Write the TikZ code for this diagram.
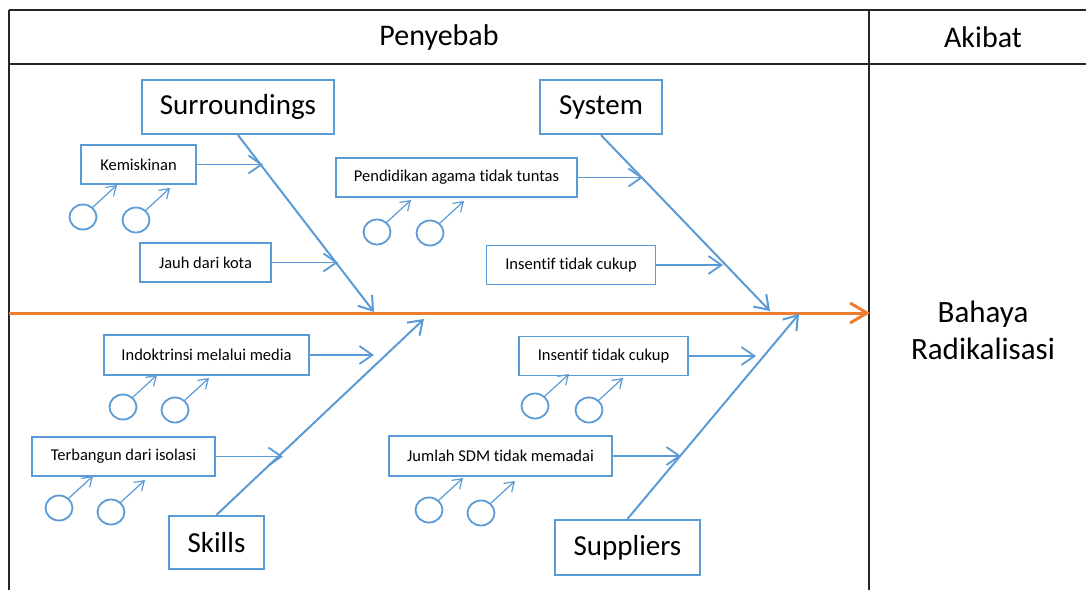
\documentclass[tikz,border=0pt]{standalone}
\usepackage{fontspec}
\setmainfont{Carlito}[Ligatures=NoCommon]
\usetikzlibrary{arrows.meta,shapes.geometric}
\definecolor{fbblue}{HTML}{5B9BD5}
\definecolor{fborange}{HTML}{ED7D31}
\begin{document}
\begin{tikzpicture}[x=1pt,y=-1pt,
  frame/.style={line width=2.4pt,draw=black!85},
  hdr/.style={font=\fontsize{30}{34}\selectfont,inner sep=0},
  cause/.style={draw=fbblue,line width=2.2pt,fill=white,inner sep=0,
    font=\fontsize{29}{34}\selectfont},
  sub/.style={draw=fbblue,line width=1.9pt,fill=white,inner sep=0,
    font=\fontsize{16.5}{19}\selectfont},
  bone/.style={draw=fbblue,line width=2pt,-{Straight Barb[length=13pt,width=18pt]}},
  subarr/.style={draw=fbblue,line width=1.8pt,-{Straight Barb[length=13pt,width=18pt]}},
  male/.style={ellipse,draw=fbblue,line width=1.8pt,minimum width=27pt,minimum height=25pt,inner sep=0},
  smallarr/.style={draw=fbblue,line width=1.2pt,-{Straight Barb[length=9pt,width=12pt]}},
  spine/.style={draw=fborange,line width=3pt,-{Straight Barb[length=17pt,width=20pt]}}]
\useasboundingbox (0,0) rectangle (1086,590);
% table frame
\draw[frame] (9,10) -- (1086,10);
\draw[frame] (9,64) -- (1086,64);
\draw[frame] (9,10) -- (9,590);
\draw[frame] (869,10) -- (869,590);
\node[hdr] (penyebab) at (439,37) {Penyebab};
\node[hdr] (akibat) at (983,37) {Akibat};
% effect
\node[hdr,align=center,font=\fontsize{31}{37}\selectfont] (effect) at (983,330) {Bahaya\\Radikalisasi};
% spine
\coordinate (spineL) at (9,313);
\coordinate (spineR) at (870,313);
\draw[spine] (spineL) -- (spineR);
% main causes
\node[cause,minimum width=192pt,minimum height=54pt] (surr) at (238,107) {Surroundings};
\node[cause,minimum width=122pt,minimum height=54pt] (sys) at (601,107) {System};
\node[cause,minimum width=95pt,minimum height=53pt] (skills) at (216.5,542.5) {Skills};
\node[cause,minimum width=145pt,minimum height=55pt] (supp) at (627.5,547.5) {Suppliers};
\coordinate (surrE) at (374,312);
\coordinate (sysE) at (770,311);
\coordinate (skillsE) at (424,319);
\coordinate (suppE) at (799,314);
\draw[bone] (surr.south) -- (surrE);
\draw[bone] (sys.south) -- (sysE);
\draw[bone] (skills.north) -- (skillsE);
\draw[bone] (supp.north) -- (suppE);
% sub causes
\node[sub,minimum width=115pt,minimum height=39pt] (kem) at (138.5,164.5) {Kemiskinan};
\node[sub,minimum width=131pt,minimum height=39pt] (jauh) at (205.5,262.5) {Jauh dari kota};
\node[sub,minimum width=241pt,minimum height=39pt] (pend) at (456.5,177.5) {Pendidikan agama tidak tuntas};
\node[sub,minimum width=169pt,minimum height=39pt] (ins1) at (571,265) {Insentif tidak cukup};
\node[sub,minimum width=205pt,minimum height=40pt] (indo) at (206.5,355) {Indoktrinsi melalui media};
\node[sub,minimum width=183pt,minimum height=39pt] (terb) at (123.5,456.5) {Terbangun dari isolasi};
\node[sub,minimum width=169pt,minimum height=39pt] (ins2) at (603.5,356) {Insentif tidak cukup};
\node[sub,minimum width=223pt,minimum height=40pt] (juml) at (500.5,456) {Jumlah SDM tidak memadai};
\coordinate (kemE) at (263,164.5);
\coordinate (jauhE) at (338,262.5);
\coordinate (pendE) at (643,177.5);
\coordinate (ins1E) at (723,265);
\coordinate (indoE) at (374,355);
\coordinate (terbE) at (283,456.5);
\coordinate (ins2E) at (756,356);
\coordinate (jumlE) at (681,456);
\draw[subarr] (kem.east) -- (kemE);
\draw[subarr] (jauh.east) -- (jauhE);
\draw[subarr] (pend.east) -- (pendE);
\draw[subarr] (ins1.east) -- (ins1E);
\draw[subarr] (indo.east) -- (indoE);
\draw[subarr] (terb.east) -- (terbE);
\draw[subarr] (ins2.east) -- (ins2E);
\draw[subarr] (juml.east) -- (jumlE);
% male symbols
\foreach \n/\x/\y in {a/83/217, b/136/220, c/377/232, d/430/233, e/123/407, f/175/410,
    g/59/508, h/111/512, i/535/406, j/589/410, k/429/510, l/481/513} {
  \node[male] (m\n) at (\x,\y) {};
  \coordinate (t\n) at (\x+34,\y-32);
  \draw[smallarr] (m\n.45) -- (t\n);
}
\end{tikzpicture}
\end{document}
